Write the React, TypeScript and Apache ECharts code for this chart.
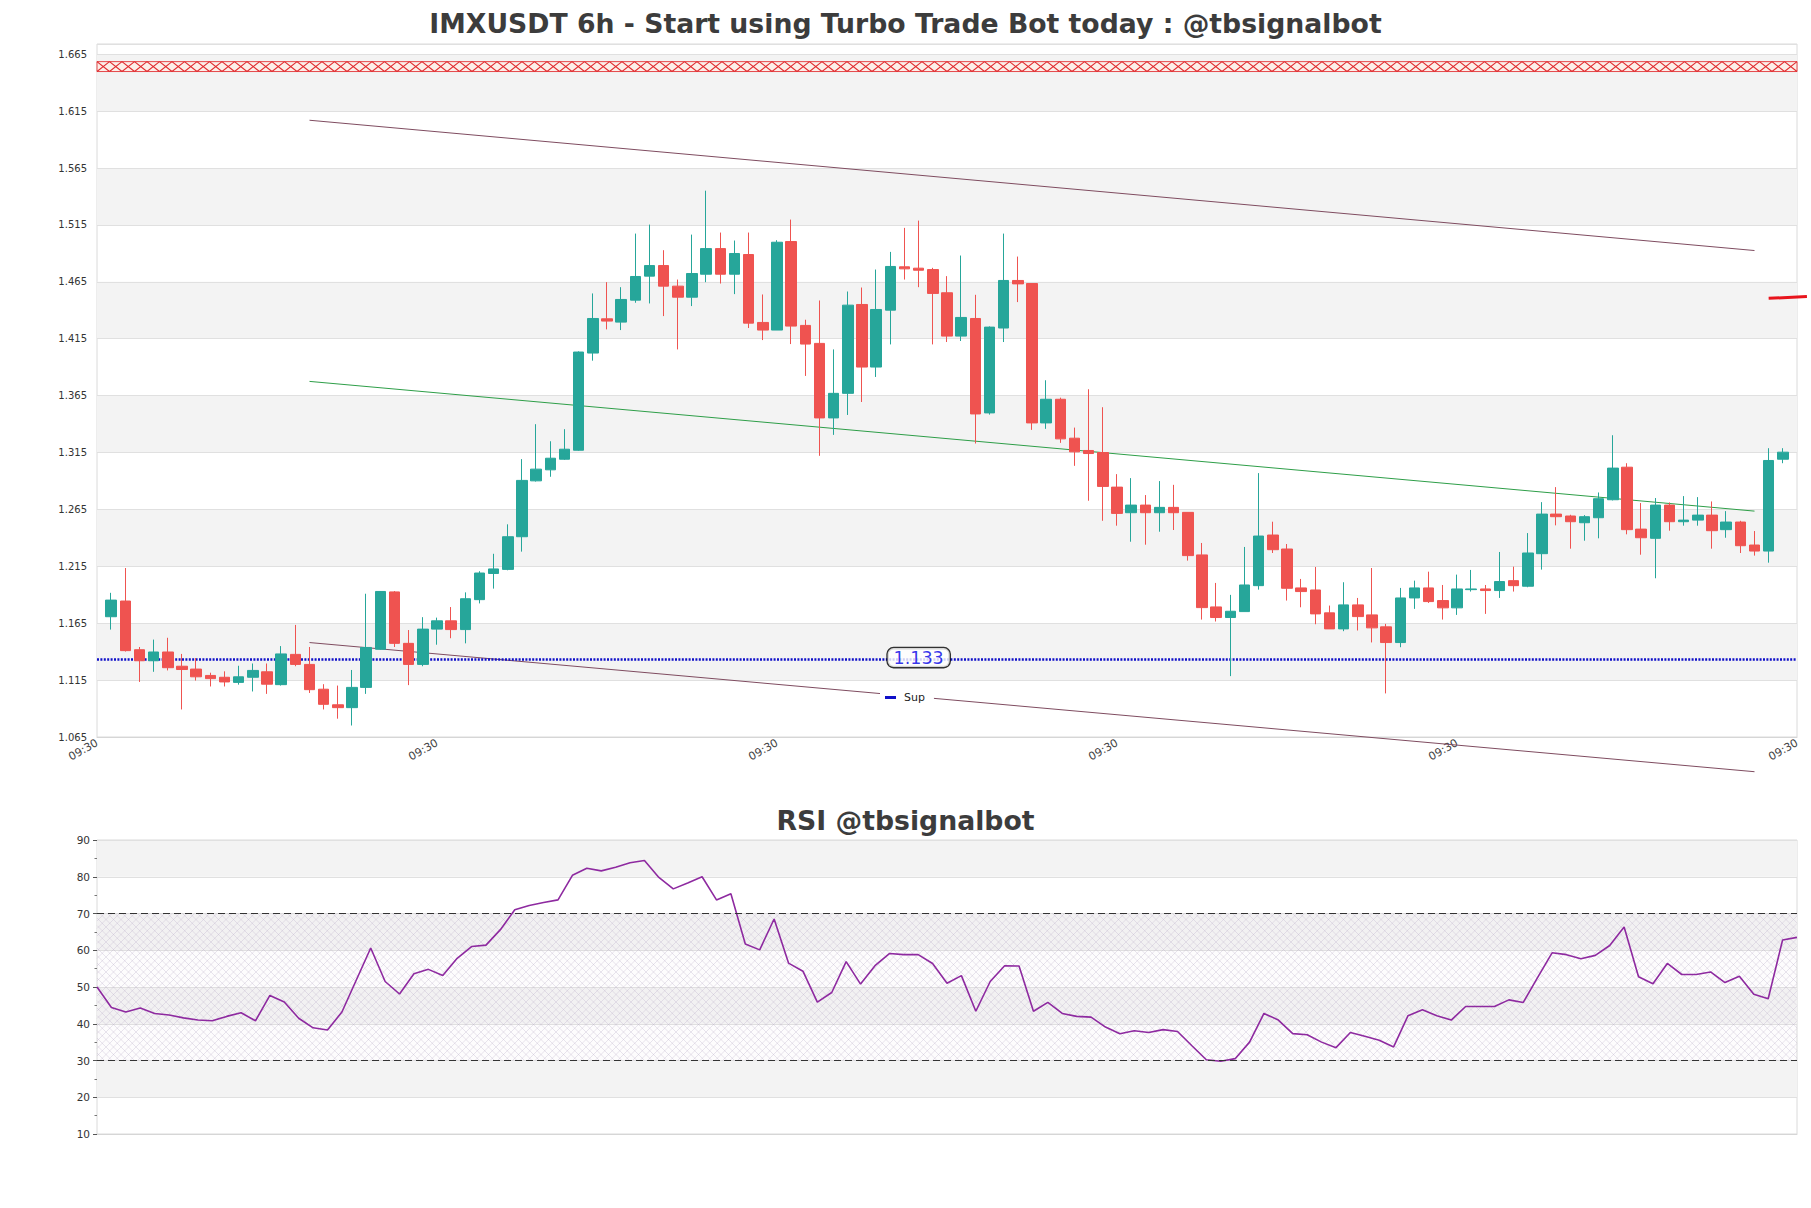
import React, { useEffect, useRef } from 'react';
import * as echarts from 'echarts';

// ---- Price data (6h candles) ----
const openP = [
  1.1707, 1.1845, 1.1417, 1.1320, 1.1397, 1.1272, 1.1247, 1.1191, 1.1175, 1.1130,
  1.1175, 1.1223, 1.1110, 1.1376, 1.1288, 1.1070, 1.0933, 1.0908, 1.1086, 1.1421,
  1.1925, 1.1473, 1.1288, 1.1598, 1.1671, 1.1594, 1.1857, 1.2087, 1.2123, 1.2410,
  1.2901, 1.2998, 1.3091, 1.3170, 1.4024, 1.4325, 1.4296, 1.4489, 1.4700, 1.4793,
  1.4612, 1.4515, 1.4717, 1.4942, 1.4717, 1.4890, 1.4293, 1.4226, 1.5004, 1.4267,
  1.4109, 1.3454, 1.3670, 1.4451, 1.3901, 1.4401, 1.4782, 1.4770, 1.4758, 1.4554,
  1.4173, 1.4328, 1.3498, 1.4244, 1.4662, 1.4635, 1.3410, 1.3618, 1.3276, 1.3168,
  1.3150, 1.2846, 1.2621, 1.2688, 1.2621, 1.2668, 1.2624, 1.2250, 1.1793, 1.1700,
  1.1752, 1.1980, 1.2425, 1.2302, 1.1960, 1.1942, 1.1741, 1.1600, 1.1811, 1.1723,
  1.1618, 1.1480, 1.1872, 1.1960, 1.1849, 1.1785, 1.1945, 1.1951, 1.1937, 1.2024,
  1.1975, 1.2261, 1.2609, 1.2592, 1.2533, 1.2577, 1.2735, 1.3021, 1.2477, 1.2396,
  1.2688, 1.2542, 1.2556, 1.2600, 1.2472, 1.2539, 1.2337, 1.2284, 1.3091,
];
const highP = [
  1.1917, 1.2135, 1.1441, 1.1506, 1.1522, 1.1380, 1.1344, 1.1215, 1.1227, 1.1276,
  1.1296, 1.1296, 1.1449, 1.1635, 1.1441, 1.1114, 1.1102, 1.1239, 1.1909, 1.1933,
  1.1933, 1.1590, 1.1703, 1.1699, 1.1792, 1.1921, 1.2107, 1.2260, 1.2519, 1.3092,
  1.3399, 1.3249, 1.3355, 1.4039, 1.4548, 1.4647, 1.4603, 1.5074, 1.5153, 1.4928,
  1.4670, 1.5065, 1.5451, 1.5083, 1.5013, 1.5083, 1.4539, 1.5016, 1.5197, 1.4317,
  1.4486, 1.4056, 1.4565, 1.4600, 1.4758, 1.4913, 1.5124, 1.5188, 1.4773, 1.4700,
  1.4881, 1.4536, 1.4258, 1.5074, 1.4872, 1.4635, 1.3785, 1.3632, 1.3369, 1.3706,
  1.3548, 1.2960, 1.2925, 1.2776, 1.2899, 1.2866, 1.2624, 1.2355, 1.2004, 1.1899,
  1.2320, 1.2969, 1.2542, 1.2346, 1.2039, 1.2144, 1.1805, 1.2010, 1.1872, 1.2135,
  1.1644, 1.1960, 1.2024, 1.2103, 1.1986, 1.2077, 1.2118, 1.1986, 1.2276, 1.2147,
  1.2442, 1.2714, 1.2846, 1.2603, 1.2600, 1.2799, 1.3302, 1.3056, 1.2706, 1.2750,
  1.2711, 1.2767, 1.2758, 1.2720, 1.2635, 1.2550, 1.2460, 1.3188, 1.3188,
];
const lowP = [
  1.1594, 1.1401, 1.1134, 1.1223, 1.1235, 1.0892, 1.1146, 1.1094, 1.1094, 1.1110,
  1.1050, 1.1029, 1.1102, 1.1272, 1.1037, 1.0892, 1.0811, 1.0751, 1.1029, 1.1417,
  1.1441, 1.1106, 1.1272, 1.1461, 1.1518, 1.1473, 1.1824, 1.1954, 1.2115, 1.2279,
  1.2895, 1.2937, 1.3085, 1.3165, 1.3957, 1.4232, 1.4226, 1.4466, 1.4460, 1.4349,
  1.4056, 1.4437, 1.4647, 1.4635, 1.4542, 1.4244, 1.4138, 1.4226, 1.4103, 1.3823,
  1.3121, 1.3305, 1.3480, 1.3594, 1.3814, 1.4100, 1.4670, 1.4603, 1.4100, 1.4121,
  1.4130, 1.3229, 1.3483, 1.4121, 1.4472, 1.3349, 1.3358, 1.3235, 1.3033, 1.2726,
  1.2550, 1.2507, 1.2366, 1.2340, 1.2454, 1.2469, 1.2200, 1.1682, 1.1665, 1.1185,
  1.1752, 1.1945, 1.2267, 1.1849, 1.1790, 1.1641, 1.1600, 1.1580, 1.1586, 1.1481,
  1.1033, 1.1439, 1.1776, 1.1828, 1.1682, 1.1723, 1.1928, 1.1732, 1.1872, 1.1928,
  1.1966, 1.2121, 1.2510, 1.2305, 1.2375, 1.2396, 1.2729, 1.2431, 1.2252, 1.2045,
  1.2463, 1.2507, 1.2507, 1.2305, 1.2401, 1.2267, 1.2244, 1.2182, 1.3056,
];
const closeP = [
  1.1853, 1.1409, 1.1320, 1.1397, 1.1259, 1.1243, 1.1179, 1.1163, 1.1134, 1.1179,
  1.1235, 1.1114, 1.1380, 1.1288, 1.1066, 1.0937, 1.0908, 1.1086, 1.1437, 1.1929,
  1.1473, 1.1288, 1.1598, 1.1671, 1.1594, 1.1865, 1.2091, 1.2127, 1.2410, 1.2905,
  1.3004, 1.3100, 1.3179, 1.4033, 1.4328, 1.4305, 1.4495, 1.4697, 1.4793, 1.4612,
  1.4515, 1.4723, 1.4942, 1.4717, 1.4899, 1.4287, 1.4226, 1.4998, 1.4261, 1.4103,
  1.3454, 1.3670, 1.4445, 1.3901, 1.4407, 1.4785, 1.4764, 1.4752, 1.4548, 1.4173,
  1.4337, 1.3489, 1.4252, 1.4662, 1.4632, 1.3410, 1.3618, 1.3270, 1.3156, 1.3141,
  1.2852, 1.2615, 1.2688, 1.2621, 1.2668, 1.2621, 1.2244, 1.1787, 1.1700, 1.1755,
  1.1986, 1.2416, 1.2296, 1.1957, 1.1928, 1.1732, 1.1600, 1.1811, 1.1708, 1.1609,
  1.1480, 1.1872, 1.1960, 1.1840, 1.1785, 1.1951, 1.1951, 1.1937, 1.2016, 1.1980,
  1.2267, 1.2609, 1.2586, 1.2542, 1.2586, 1.2744, 1.3013, 1.2472, 1.2401, 1.2688,
  1.2542, 1.2556, 1.2600, 1.2463, 1.2539, 1.2331, 1.2284, 1.3080, 1.3153,
];

// ---- RSI ----
const rsiValues = [
  50.0, 44.4, 43.2, 44.3, 42.8, 42.4, 41.6, 41.0, 40.8, 42.0,
  43.0, 40.8, 47.7, 45.9, 41.5, 38.9, 38.3, 43.2, 51.9, 60.6,
  51.5, 48.1, 53.6, 54.8, 53.1, 57.8, 61.0, 61.4, 65.6, 71.0,
  72.2, 73.0, 73.7, 80.4, 82.3, 81.6, 82.6, 83.8, 84.4, 79.8,
  76.7, 78.3, 80.0, 73.7, 75.4, 61.7, 60.1, 68.5, 56.5, 54.3,
  45.9, 48.5, 56.9, 50.8, 55.8, 59.1, 58.8, 58.8, 56.4, 51.0,
  53.1, 43.4, 51.5, 55.8, 55.7, 43.4, 45.8, 42.8, 42.0, 41.8,
  39.1, 37.3, 38.1, 37.6, 38.4, 37.9, 34.0, 30.2, 29.8, 30.5,
  35.0, 42.8, 41.0, 37.3, 37.0, 35.0, 33.5, 37.6, 36.6, 35.5,
  33.7, 42.2, 43.8, 42.2, 41.0, 44.7, 44.7, 44.7, 46.5, 45.8,
  52.6, 59.3, 58.8, 57.7, 58.6, 61.3, 66.3, 52.8, 50.9, 56.4,
  53.4, 53.4, 54.1, 51.2, 52.9, 48.0, 46.8, 62.8, 63.5,
];

// ---- Levels / annotations ----
const supportLevel = 1.133;
const resistanceZone = [1.6498, 1.6585];
const channelIdx = [14, 116];
const channelUpper = [1.607, 1.4925];
const channelMid = [1.3775, 1.2635];
const channelLower = [1.148, 1.0345];
const markerIdx = [117, 119.7];
const markerLevel = [1.4505, 1.452];
const rsiZone = [30, 70];
const rsiGuides = [70, 30];

// ---- Axes ----
const priceMin = 1.065;
const priceMax = 1.674;
const priceStep = 0.05;
const slotTimes = ['09:30', '15:30', '21:30', '03:30'];
const labelEvery = 24;

const UP = '#26a69a';
const DOWN = '#ef5350';
const FONT = 'DejaVu Sans';

export default function App() {
  const ref = useRef<HTMLDivElement>(null);

  useEffect(() => {
    if (!ref.current) return;
    const chart = echarts.init(ref.current, undefined, { renderer: 'svg' });
    const n = openP.length;
    const cats = Array.from({ length: n + 2 }, (_, j) => `${j}|${slotTimes[j % 4]}`);
    const candleData: any[] = cats.map((_, j) => {
      const i = j - 1;
      if (i < 0 || i >= n) return '-';
      return [openP[i], closeP[i], lowP[i], highP[i]];
    });
    const rsiCats = rsiValues.map((_, i) => String(i));
    const chan = (ys: number[]) => channelIdx.map((ix, k) => [ix + 1, ys[k]]);

    const redHatch = (params: any, api: any) => {
      const cs = params.coordSys;
      const yTop = api.coord([0, api.value(2)])[1];
      const yBot = api.coord([0, api.value(1)])[1];
      const h = yBot - yTop;
      const P = 12.5;
      const L = cs.x;
      const R = cs.x + cs.width;
      const st = { stroke: '#e02a2e', lineWidth: 1.1 };
      const children: any[] = [
        { type: 'rect', shape: { x: L, y: yTop, width: R - L, height: h }, style: { fill: 'rgba(255,236,228,0.7)', stroke: 'rgba(224,42,46,0.85)', lineWidth: 1 } },
      ];
      for (let x0 = L; x0 < R - 0.5; x0 += P) {
        const x1 = Math.min(x0 + P, R);
        const f = (x1 - x0) / P;
        children.push({ type: 'line', shape: { x1: x0, y1: yTop, x2: x1, y2: yTop + f * h }, style: st });
        const sx = Math.min(x0 + P, R);
        const sy = yTop + ((x0 + P - sx) / P) * h;
        children.push({ type: 'line', shape: { x1: sx, y1: sy, x2: x0, y2: yBot }, style: st });
      }
      return { type: 'group', children, silent: true };
    };

    const rsiHatch = (params: any, api: any) => {
      const cs = params.coordSys;
      const top = api.coord([0, api.value(2)])[1];
      const bot = api.coord([0, api.value(1)])[1];
      const h = bot - top;
      const L = cs.x;
      const R = cs.x + cs.width;
      const s = 7.5;
      const st = { stroke: 'rgba(180,165,198,0.42)', lineWidth: 0.7 };
      const children: any[] = [
        { type: 'rect', shape: { x: L, y: top, width: R - L, height: h }, style: { fill: 'rgba(225,215,235,0.08)' } },
      ];
      for (let c = L - h; c < R; c += s) {
        const t1 = Math.max(0, L - c);
        const t2 = Math.min(h, R - c);
        if (t2 > t1) children.push({ type: 'line', shape: { x1: c + t1, y1: top + t1, x2: c + t2, y2: top + t2 }, style: st });
        const c2 = c + h;
        const u1 = Math.max(0, c2 - R);
        const u2 = Math.min(h, c2 - L);
        if (u2 > u1) children.push({ type: 'line', shape: { x1: c2 - u1, y1: top + u1, x2: c2 - u2, y2: top + u2 }, style: st });
      }
      return { type: 'group', children, silent: true };
    };

    const option: any = {
      animation: false,
      backgroundColor: '#ffffff',
      textStyle: { fontFamily: FONT },
      title: [
        {
          text: 'IMXUSDT 6h - Start using Turbo Trade Bot today : @tbsignalbot',
          left: 'center',
          top: 5,
          textStyle: { fontFamily: FONT, fontSize: 26.7, fontWeight: 'bold', color: '#3c3c3c' },
        },
        {
          text: 'RSI @tbsignalbot',
          left: 'center',
          top: 802,
          textStyle: { fontFamily: FONT, fontSize: 26.7, fontWeight: 'bold', color: '#3c3c3c' },
        },
      ],
      legend: {
        data: ['Sup'],
        left: 880,
        top: 687,
        backgroundColor: '#ffffff',
        padding: [5, 9, 5, 5],
        icon: 'rect',
        itemWidth: 11,
        itemHeight: 3,
        selectedMode: false,
        textStyle: { fontFamily: FONT, fontSize: 11, color: '#222', padding: [0, 0, 0, 3] },
      },
      grid: [
        { left: 97, top: 44, width: 1700, height: 693, show: true, borderColor: '#dadada', borderWidth: 1, backgroundColor: 'transparent' },
        { left: 97, top: 840, width: 1700, height: 294, show: true, borderColor: '#dadada', borderWidth: 1, backgroundColor: 'transparent' },
      ],
      xAxis: [
        {
          type: 'category',
          gridIndex: 0,
          data: cats,
          boundaryGap: false,
          axisLine: { show: true, lineStyle: { color: '#d6d6d6' } },
          axisTick: { show: false },
          splitLine: { show: false },
          axisLabel: {
            interval: (idx: number) => idx % labelEvery === 0,
            formatter: (v: string) => v.split('|')[1],
            rotate: 30,
            margin: 5,
            fontSize: 11,
            color: '#444',
            fontFamily: FONT,
          },
        },
        {
          type: 'category',
          gridIndex: 1,
          data: rsiCats,
          boundaryGap: false,
          axisLine: { show: true, lineStyle: { color: '#d6d6d6' } },
          axisTick: { show: false },
          axisLabel: { show: false },
          splitLine: { show: false },
        },
      ],
      yAxis: [
        {
          type: 'value',
          gridIndex: 0,
          min: priceMin,
          max: priceMax,
          interval: priceStep,
          axisLine: { show: false },
          axisTick: { show: false },
          axisLabel: {
            showMaxLabel: false,
            formatter: (v: number) => v.toFixed(3),
            fontSize: 10,
            color: '#333',
            margin: 10,
            fontFamily: FONT,
          },
          splitLine: { show: true, lineStyle: { color: '#e0e0e0', width: 1 } },
          splitArea: { show: true, areaStyle: { color: ['rgba(255,255,255,0)', '#f3f3f3'] } },
        },
        {
          type: 'value',
          gridIndex: 1,
          min: 10,
          max: 90,
          interval: 10,
          axisLine: { show: false },
          axisTick: { show: true, length: 4, lineStyle: { color: '#555' } },
          minorTick: { show: true, splitNumber: 2, length: 2.5, lineStyle: { color: '#777' } },
          axisLabel: { fontSize: 10.5, color: '#333', margin: 7, fontFamily: FONT },
          splitLine: { show: true, lineStyle: { color: '#e0e0e0', width: 1 } },
          splitArea: { show: true, areaStyle: { color: ['rgba(255,255,255,0)', '#f3f3f3'] } },
        },
      ],
      series: [
        {
          type: 'custom',
          name: 'zone',
          xAxisIndex: 0,
          yAxisIndex: 0,
          z: 1,
          silent: true,
          renderItem: redHatch,
          encode: { x: 0, y: [1, 2] },
          data: [[0, resistanceZone[0], resistanceZone[1]]],
        },
        {
          type: 'candlestick',
          name: 'IMXUSDT',
          xAxisIndex: 0,
          yAxisIndex: 0,
          barWidth: 11,
          z: 3,
          itemStyle: { color: UP, color0: DOWN, borderColor: UP, borderColor0: DOWN, borderWidth: 1 },
          data: candleData,
        },
        {
          type: 'line',
          name: 'upper',
          xAxisIndex: 0,
          yAxisIndex: 0,
          symbol: 'none',
          clip: false,
          z: 2,
          lineStyle: { color: '#7f4c60', width: 1 },
          data: chan(channelUpper),
        },
        {
          type: 'line',
          name: 'mid',
          xAxisIndex: 0,
          yAxisIndex: 0,
          symbol: 'none',
          clip: false,
          z: 2,
          lineStyle: { color: '#2e9e48', width: 1 },
          data: chan(channelMid),
        },
        {
          type: 'line',
          name: 'lower',
          xAxisIndex: 0,
          yAxisIndex: 0,
          symbol: 'none',
          clip: false,
          z: 2,
          lineStyle: { color: '#7f4c60', width: 1 },
          data: chan(channelLower),
        },
        {
          type: 'line',
          name: 'Sup',
          xAxisIndex: 0,
          yAxisIndex: 0,
          symbol: 'none',
          z: 3,
          color: '#1010c8',
          itemStyle: { color: '#1010c8' },
          lineStyle: { color: '#1010c8', width: 2.5, type: [2, 1.4] },
          data: cats.map(() => supportLevel),
        },
        {
          type: 'scatter',
          name: 'supLabel',
          xAxisIndex: 0,
          yAxisIndex: 0,
          symbolSize: 1,
          z: 6,
          silent: true,
          itemStyle: { color: 'rgba(0,0,0,0)' },
          label: {
            show: true,
            position: 'inside',
            formatter: () => supportLevel.toFixed(3),
            fontFamily: FONT,
            fontSize: 17.5,
            color: '#0000e6',
            backgroundColor: '#ffffff',
            borderColor: '#000',
            borderWidth: 1.3,
            borderRadius: 6,
            padding: [1, 6, 0, 6],
            offset: [0, -2],
          },
          data: [[58, supportLevel]],
        },
        {
          type: 'custom',
          name: 'rsiZone',
          xAxisIndex: 1,
          yAxisIndex: 1,
          z: 1,
          silent: true,
          renderItem: rsiHatch,
          encode: { x: 0, y: [1, 2] },
          data: [[0, rsiZone[0], rsiZone[1]]],
        },
        {
          type: 'line',
          name: 'RSI',
          xAxisIndex: 1,
          yAxisIndex: 1,
          symbol: 'none',
          z: 4,
          lineStyle: { color: '#8e2aa0', width: 1.6 },
          data: rsiValues,
          markLine: {
            silent: true,
            symbol: ['none', 'none'],
            label: { show: false },
            lineStyle: { color: '#333', width: 1.2, type: [7, 4] },
            data: rsiGuides.map((v) => ({ yAxis: v })),
          },
        },
      ],
    };

    chart.setOption(option);

    const j0 = markerIdx[0] + 1;
    const pa = chart.convertToPixel({ xAxisIndex: 0, yAxisIndex: 0 } as any, [j0, markerLevel[0]]) as number[];
    const pb = chart.convertToPixel({ xAxisIndex: 0, yAxisIndex: 0 } as any, [j0 + 1, markerLevel[1]]) as number[];
    if (pa && pb) {
      const step = pb[0] - pa[0];
      const x2 = pa[0] + (markerIdx[1] - markerIdx[0]) * step;
      chart.setOption({
        graphic: [
          {
            type: 'line',
            silent: true,
            z: 10,
            shape: { x1: pa[0], y1: pa[1], x2, y2: pb[1] },
            style: { stroke: '#e8141c', lineWidth: 3 },
          },
        ],
      });
    }

    return () => chart.dispose();
  }, []);

  return (
    <div
      ref={ref}
      style={{ position: 'fixed', left: 0, top: 0, width: 1811, height: 1208, background: '#ffffff' }}
    />
  );
}
